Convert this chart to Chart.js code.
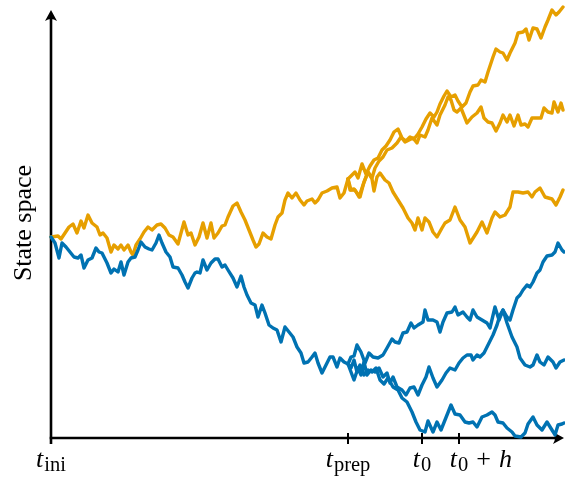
<!DOCTYPE html>
<html>
<head>
<meta charset="utf-8">
<script src="https://cdn.jsdelivr.net/npm/chart.js@4/dist/chart.umd.min.js"></script>
<style>
  html, body { margin: 0; padding: 0; background: #fff; overflow: hidden; }
  canvas { display: block; }
</style>
</head>
<body>
<canvas id="chart" width="565" height="478"></canvas>
<script>
// Time marks on the horizontal axis (t_ini, t_prep, t_0, t_0 + h)
const tickValues = [0, 297, 371, 408];
const tickLabels = [
  [['t', 'it'], ['ini', 'sub']],
  [['t', 'it'], ['prep', 'sub']],
  [['t', 'it'], ['0', 'sub']],
  [['t', 'it'], ['0', 'sub'], ['+', 'op'], ['h', 'it']]
];
const yTitle = 'State space';

// Orange trajectory: common history up to t_prep, then three continuations
const orangeShared = [[0,201],[7,202],[10,199],[14,205],[18,211],[22,214],[26,205],[30,217],[33,210],[37,223],[41,215],[46,211],[49,203],[52,205],[56,200],[60,186],[63,193],[67,189],[70,193],[73,188],[77,193],[80,186],[82,183],[85,193],[89,199],[93,206],[97,211],[101,208],[106,213],[110,214],[114,210],[118,203],[122,201],[127,194],[130,205],[133,216],[137,203],[140,205],[144,193],[148,201],[152,215],[156,200],[160,215],[163,200],[167,205],[171,212],[174,213],[177,221],[182,232],[186,235],[190,226],[194,218],[198,208],[202,198],[205,191],[208,194],[212,205],[216,201],[220,199],[224,213],[227,221],[231,225],[234,238],[237,245],[241,240],[245,245],[249,238],[253,233],[256,237],[261,239],[264,235],[267,238],[271,245],[276,247],[281,250],[286,251],[289,240],[293,245],[297,259]];
const orangeHigh = [[297,259],[300,262],[304,266],[307,260],[311,274],[315,264],[319,272],[323,278],[327,280],[331,288],[335,292],[339,298],[343,306],[347,309],[351,300],[355,297],[359,301],[363,299],[367,304],[371,311],[375,319],[379,325],[383,321],[386,326],[389,334],[393,342],[396,347],[400,341],[404,343],[407,337],[411,331],[415,335],[419,346],[422,352],[427,353],[430,358],[434,356],[437,366],[442,381],[445,389],[449,386],[452,385],[456,378],[459,385],[464,395],[467,405],[472,406],[475,409],[478,398],[482,410],[486,409],[490,400],[494,411],[497,418],[501,428],[505,423],[508,426],[512,431]];
const orangeMid = [[297,259],[299,248],[303,249],[306,245],[309,241],[313,256],[317,266],[321,260],[324,270],[328,277],[332,281],[336,288],[341,290],[346,295],[350,301],[354,296],[358,298],[362,300],[366,295],[369,303],[374,301],[377,308],[381,320],[386,313],[389,323],[394,333],[397,341],[400,338],[403,328],[406,326],[410,330],[416,315],[421,321],[426,325],[430,331],[433,320],[437,316],[441,315],[445,307],[449,315],[452,323],[456,316],[459,323],[463,312],[467,323],[470,313],[474,314],[477,311],[481,320],[486,320],[490,320],[493,330],[497,326],[501,325],[503,336],[507,326],[510,335],[512,328]];
const orangeLow = [[297,259],[300,248],[304,248],[308,241],[312,253],[317,266],[321,259],[323,247],[326,261],[329,265],[334,258],[338,255],[342,246],[347,238],[352,230],[357,220],[361,215],[364,208],[367,220],[371,208],[374,220],[378,216],[382,206],[386,201],[391,210],[394,215],[399,218],[404,231],[409,218],[414,211],[419,195],[426,206],[431,216],[436,205],[441,220],[444,226],[449,221],[454,223],[459,231],[462,246],[467,246],[472,245],[477,246],[481,241],[484,246],[489,250],[494,241],[501,239],[505,233],[509,241],[512,248]];

// Blue trajectory: common history up to t_prep, then three continuations
const blueShared = [[0,201],[4,195],[8,180],[11,195],[15,191],[19,186],[23,181],[27,180],[30,183],[33,170],[37,178],[41,180],[45,190],[48,186],[51,185],[56,175],[60,165],[63,169],[67,166],[70,176],[73,163],[77,176],[80,180],[84,181],[87,188],[90,196],[94,191],[98,189],[101,188],[105,195],[108,203],[111,195],[115,186],[119,181],[122,171],[127,170],[131,163],[134,156],[137,150],[141,160],[144,165],[146,166],[149,165],[152,178],[156,168],[160,175],[164,179],[167,179],[171,171],[174,173],[177,168],[182,160],[186,151],[190,162],[193,151],[196,143],[200,135],[204,133],[207,121],[211,133],[214,125],[218,113],[222,110],[226,108],[230,96],[234,111],[238,106],[242,101],[246,91],[250,85],[253,75],[257,76],[261,81],[264,85],[267,75],[271,65],[275,73],[279,81],[282,81],[286,71],[289,80],[293,76],[297,74]];
const blueHigh = [[297,74],[300,66],[303,58],[307,70],[310,63],[313,76],[316,63],[320,68],[324,66],[328,70],[332,61],[336,65],[339,55],[342,61],[346,51],[351,48],[355,43],[359,50],[363,51],[367,43],[371,53],[375,61],[378,71],[382,60],[386,51],[391,58],[395,65],[399,70],[404,68],[408,75],[412,80],[416,83],[420,83],[422,78],[426,83],[429,81],[433,85],[437,93],[442,103],[446,113],[449,123],[452,128],[456,121],[459,118],[462,128],[466,140],[469,143],[472,148],[476,153],[479,151],[482,156],[486,165],[489,168],[492,176],[496,182],[501,183],[504,186],[507,195],[511,188],[513,186]];
const blueMid = [[297,74],[300,81],[303,82],[306,93],[310,86],[314,75],[318,85],[322,81],[327,80],[332,83],[336,90],[341,99],[344,96],[348,95],[352,105],[356,106],[360,115],[363,110],[367,113],[372,116],[374,128],[377,118],[382,118],[386,116],[389,106],[392,116],[396,125],[401,126],[404,131],[407,123],[412,126],[416,121],[419,118],[422,128],[426,121],[431,118],[436,115],[439,110],[444,131],[448,118],[452,128],[456,115],[461,101],[466,91],[469,80],[474,73],[479,71],[482,73],[486,83],[489,76],[493,73],[497,81],[502,76],[505,70],[509,76],[513,78]];
const blueLow = [[297,74],[300,70],[303,78],[306,66],[309,73],[313,63],[317,68],[321,66],[325,70],[329,58],[333,54],[337,60],[342,51],[347,48],[351,40],[356,36],[361,26],[365,16],[369,8],[374,6],[377,17],[382,6],[386,16],[390,8],[394,18],[400,33],[404,24],[409,23],[414,16],[418,15],[422,16],[426,11],[431,21],[436,23],[441,26],[444,23],[447,16],[452,15],[456,10],[461,6],[464,2],[470,1],[474,5],[477,14],[482,21],[486,13],[491,8],[496,16],[501,8],[504,3],[507,13],[511,14],[513,15]];

const ORANGE = '#E69F00';
const BLUE = '#0072B2';

function series(points, color) {
  return {
    data: points.map(([x, y]) => ({ x, y })),
    showLine: true,
    borderColor: color,
    backgroundColor: color,
    borderWidth: 3.4,
    pointRadius: 0,
    tension: 0,
    clip: false,
    borderJoinStyle: 'round',
    borderCapStyle: 'round'
  };
}

const SERIF = '"Liberation Serif", "Times New Roman", serif';
const fonts = {
  it: 'italic 26px ' + SERIF,
  sub: '20.5px ' + SERIF,
  op: '26px ' + SERIF
};

// Draws the arrowed axes, the time marks and their math-style labels
const axesPlugin = {
  id: 'arrowAxes',
  beforeDatasetsDraw(chart) {
    const { ctx } = chart;
    const xs = chart.scales.x, ys = chart.scales.y;
    const x0 = xs.getPixelForValue(0);
    const y0 = ys.getPixelForValue(0);
    const yTop = ys.getPixelForValue(428);
    const xEnd = xs.getPixelForValue(513);

    ctx.save();
    ctx.strokeStyle = '#000';
    ctx.fillStyle = '#000';
    ctx.lineWidth = 2.6;
    ctx.lineCap = 'butt';

    // vertical axis (extends slightly below to mark t_ini)
    ctx.beginPath();
    ctx.moveTo(x0, y0 + 6);
    ctx.lineTo(x0, yTop + 6);
    ctx.stroke();
    // horizontal axis
    ctx.beginPath();
    ctx.moveTo(x0 - 1.3, y0);
    ctx.lineTo(xEnd - 6, y0);
    ctx.stroke();

    // arrow heads
    ctx.beginPath();
    ctx.moveTo(x0, yTop);
    ctx.lineTo(x0 - 6, yTop + 11);
    ctx.quadraticCurveTo(x0, yTop + 7, x0 + 6, yTop + 11);
    ctx.closePath();
    ctx.fill();

    ctx.beginPath();
    ctx.moveTo(xEnd, y0);
    ctx.lineTo(xEnd - 11, y0 - 6);
    ctx.quadraticCurveTo(xEnd - 7, y0, xEnd - 11, y0 + 6);
    ctx.closePath();
    ctx.fill();

    // tick marks
    ctx.lineWidth = 2;
    tickValues.forEach((v, i) => {
      if (i === 0) return;
      const px = xs.getPixelForValue(v);
      ctx.beginPath();
      ctx.moveTo(px, y0 - 5);
      ctx.lineTo(px, y0 + 6);
      ctx.stroke();
    });

    // tick labels: "t" with an upright subscript, centred on the mark
    const baseY = 467;
    ctx.textBaseline = 'alphabetic';
    ctx.textAlign = 'left';
    tickLabels.forEach((parts, i) => {
      const px = xs.getPixelForValue(tickValues[i]);
      const widths = parts.map(([txt, kind]) => {
        ctx.font = fonts[kind];
        return ctx.measureText(txt).width;
      });
      const gap = 8;
      const extra = (k) => (parts[k][1] === 'op' || (k > 0 && parts[k - 1][1] === 'op')) ? gap : 0;
      // centre on the base symbol and its subscript
      const anchorW = widths[0] + 1 + widths[1];
      let x = px - anchorW / 2;
      parts.forEach(([txt, kind], k) => {
        ctx.font = fonts[kind];
        x += extra(k);
        const y = kind === 'sub' ? baseY + 4 : baseY;
        ctx.fillText(txt, x, y);
        x += widths[k] + (kind === 'it' && k === 0 ? 1 : 0);
      });
    });

    // vertical axis title
    ctx.save();
    ctx.translate(24, 223);
    ctx.rotate(-Math.PI / 2);
    ctx.font = '26px ' + SERIF;
    ctx.textAlign = 'center';
    ctx.textBaseline = 'middle';
    ctx.fillText(yTitle, 0, 0);
    ctx.restore();

    ctx.restore();
  }
};

new Chart(document.getElementById('chart'), {
  type: 'scatter',
  data: {
    datasets: [
      series(blueShared, BLUE),
      series(blueHigh, BLUE),
      series(blueMid, BLUE),
      series(blueLow, BLUE),
      series(orangeShared, ORANGE),
      series(orangeHigh, ORANGE),
      series(orangeMid, ORANGE),
      series(orangeLow, ORANGE)
    ]
  },
  options: {
    responsive: false,
    animation: false,
    devicePixelRatio: 1,
    layout: { padding: { left: 51, right: 0, top: 6, bottom: 40 } },
    plugins: { legend: { display: false }, tooltip: { enabled: false } },
    scales: {
      x: { type: 'linear', min: 0, max: 514, display: false },
      y: { type: 'linear', min: 0, max: 432, display: false }
    }
  },
  plugins: [axesPlugin]
});
</script>
</body>
</html>
